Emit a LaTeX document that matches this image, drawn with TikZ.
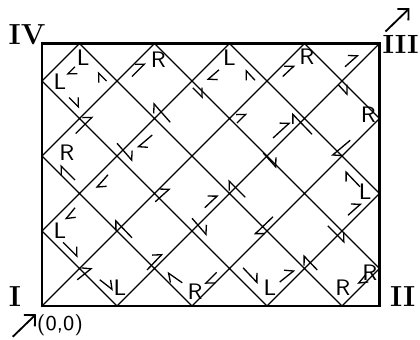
\documentclass[tikz,border=0pt]{standalone}
\usetikzlibrary{arrows.meta}
\begin{document}
\begin{tikzpicture}[x=1cm,y=1cm,
  frame/.style={line width=0.8pt},
  ray/.style={line width=0.45pt},
  harp/.style={line width=0.5pt,-{Straight Barb[harpoon,length=2.6pt,width=5pt]}},
  lab/.style={font=\sffamily\fontsize{8.5}{9}\selectfont,inner sep=0pt},
  num/.style={font=\bfseries\fontsize{11}{12}\selectfont,inner sep=0pt},
  bigarrow/.style={line width=0.7pt,-{Straight Barb[length=3pt,width=6pt]}}]
\useasboundingbox (-0.56,-0.44) rectangle (5.04,4.08);
% corners and reflection points
\coordinate (O) at (0,0);
\coordinate (BR) at (4.5,0);
\coordinate (C) at (4.5,3.5);
\coordinate (TL) at (0,3.5);
\coordinate (A1) at (3.5,3.5);
\coordinate (A2) at (4.5,2.5);
\coordinate (A3) at (2,0);
\coordinate (A4) at (0,2);
\coordinate (A5) at (1.5,3.5);
\coordinate (A6) at (4.5,0.5);
\coordinate (A7) at (4,0);
\coordinate (A8) at (0.5,3.5);
\coordinate (A9) at (0,3);
\coordinate (A10) at (3,0);
\coordinate (A11) at (4.5,1.5);
\coordinate (A12) at (2.5,3.5);
\coordinate (A13) at (0,1);
\coordinate (A14) at (1,0);
% billiard path
\draw[ray] (O) -- (A1) -- (A2) -- (A3) -- (A4) -- (A5) -- (A6) -- (A7) -- (A8)
  -- (A9) -- (A10) -- (A11) -- (A12) -- (A13) -- (A14) -- (C);
% frame
\draw[frame] (O) -- (BR) -- (C) -- (TL) -- cycle;
% small direction arrows
\draw[harp] (0.44,3.19) -- (0.33,3.08);
\draw[harp] (0.86,3.00) -- (0.74,3.12);
\draw[harp] (0.36,2.78) -- (0.50,2.64);
\draw[harp] (0.45,2.30) -- (0.68,2.53);
\draw[harp] (0.44,1.68) -- (0.24,1.88);
\draw[harp] (1.20,3.06) -- (1.38,3.24);
\draw[harp] (2.36,3.15) -- (2.20,3.01);
\draw[harp] (2.01,2.91) -- (2.15,2.77);
\draw[harp] (1.71,2.45) -- (1.48,2.71);
\draw[harp] (1.47,2.28) -- (1.27,2.11);
\draw[harp] (1.00,2.17) -- (1.21,1.93);
\draw[harp] (2.84,3.01) -- (2.71,3.15);
\draw[harp] (3.21,3.06) -- (3.37,3.21);
\draw[harp] (2.60,2.44) -- (2.73,2.57);
\draw[harp] (3.08,2.24) -- (3.31,2.45);
\draw[harp] (3.60,2.29) -- (3.33,2.57);
\draw[harp] (2.95,2.04) -- (3.13,1.84);
\draw[harp] (4.04,3.19) -- (4.22,3.35);
\draw[harp] (3.95,2.95) -- (4.08,2.81);
\draw[harp] (4.11,2.21) -- (3.86,2.00);
\draw[harp] (4.24,1.59) -- (4.04,1.80);
\draw[harp] (4.08,1.21) -- (4.26,1.37);
\draw[harp] (3.81,1.07) -- (4.04,0.84);
\draw[harp] (3.67,0.48) -- (3.48,0.68);
\draw[harp] (4.31,0.41) -- (4.21,0.29);
\draw[harp] (2.71,1.45) -- (2.48,1.68);
\draw[harp] (2.17,1.31) -- (2.35,1.48);
\draw[harp] (3.08,1.19) -- (2.83,0.95);
\draw[harp] (2.68,0.51) -- (2.88,0.30);
\draw[harp] (3.17,0.32) -- (3.37,0.48);
\draw[harp] (2.33,0.45) -- (2.17,0.29);
\draw[harp] (1.51,1.39) -- (1.71,1.57);
\draw[harp] (1.20,0.91) -- (0.97,1.15);
\draw[harp] (2.00,1.17) -- (2.20,0.94);
\draw[harp] (1.40,0.48) -- (1.61,0.70);
\draw[harp] (1.87,0.31) -- (1.67,0.45);
\draw[harp] (0.88,1.75) -- (0.72,1.57);
\draw[harp] (0.44,1.31) -- (0.31,1.15);
\draw[harp] (0.28,0.85) -- (0.48,0.65);
\draw[harp] (0.47,0.35) -- (0.67,0.51);
\draw[harp] (0.77,0.35) -- (0.95,0.21);
% L / R labels
\node[lab] (l8) at (0.55,3.31) {L};
\node[lab] (l9) at (0.24,2.99) {L};
\node[lab] (l4) at (0.33,2.05) {R};
\node[lab] (l5) at (1.55,3.28) {R};
\node[lab] (l12) at (2.50,3.31) {L};
\node[lab] (l1) at (3.53,3.32) {R};
\node[lab] (l2) at (4.35,2.55) {R};
\node[lab] (l11) at (4.31,1.52) {L};
\node[lab] (l6) at (4.37,0.45) {R};
\node[lab] (l7) at (4.01,0.24) {R};
\node[lab] (l10) at (3.04,0.25) {L};
\node[lab] (l3) at (2.04,0.19) {R};
\node[lab] (l13) at (0.24,1.01) {L};
\node[lab] (l14) at (1.04,0.24) {L};
% corner labels
\node[num] (nIV) at (-0.2,3.62) {IV};
\node[font=\bfseries\fontsize{10}{11}\selectfont,inner sep=0pt,anchor=east] (nIII) at (5.03,3.49) {III};
\node[num] (nII) at (4.81,0.12) {II};
\node[num] (nI) at (-0.36,0.12) {I};
\node[font=\sffamily\fontsize{8}{9}\selectfont,inner sep=0pt] (zero) at (0.24,-0.25) {(0,0)};
% outer arrows
\coordinate (s1) at (-0.39,-0.41);
\coordinate (e1) at (-0.08,-0.11);
\draw[bigarrow] (s1) -- (e1);
\coordinate (s2) at (4.58,3.66);
\coordinate (e2) at (4.90,3.97);
\draw[bigarrow] (s2) -- (e2);
\end{tikzpicture}
\end{document}
